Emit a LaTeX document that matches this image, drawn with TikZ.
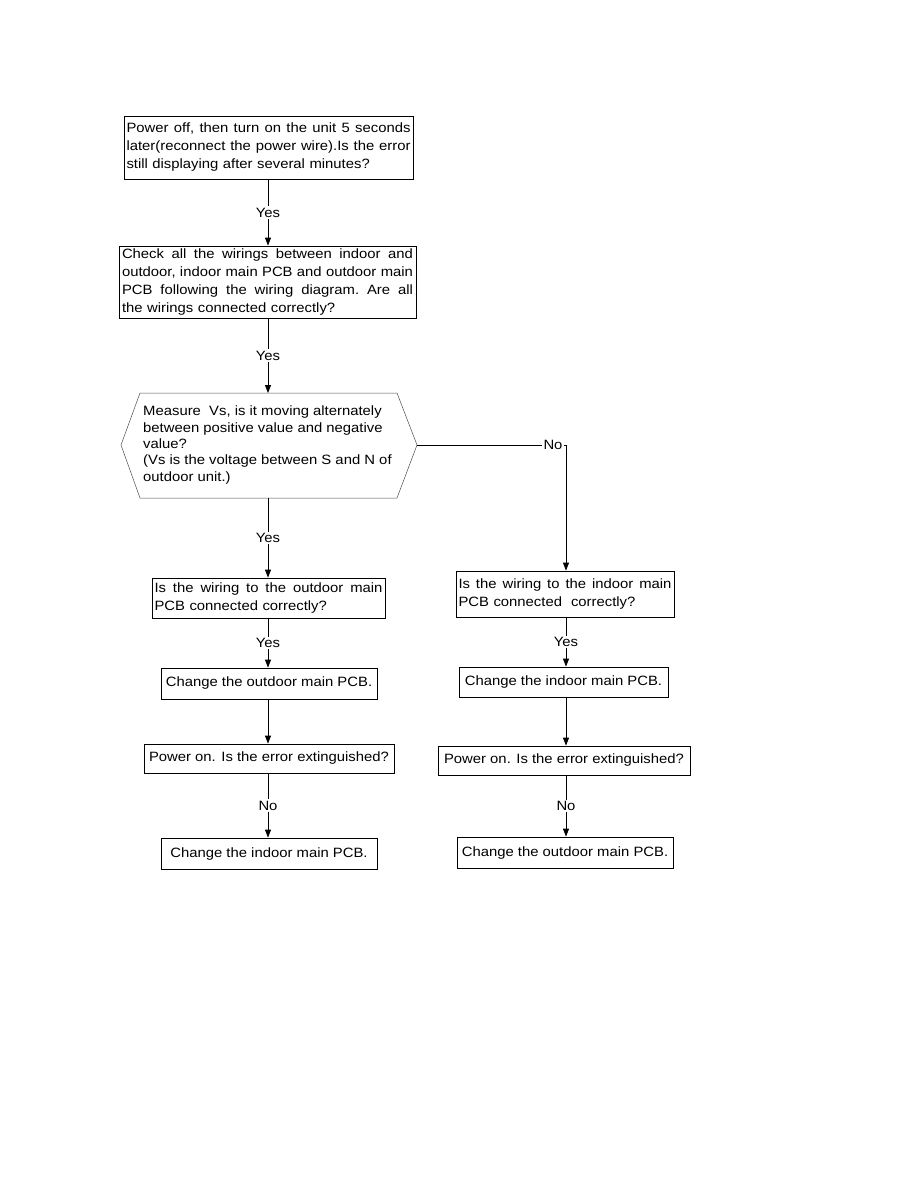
\documentclass[tikz,border=0pt]{standalone}
\usepackage{fontspec}
\setmainfont{Liberation Sans}[FakeStretch=1.1]
\usetikzlibrary{arrows.meta}
\newcommand\jline[1]{\leavevmode\hbox to \hsize{\frenchspacing\spaceskip=0.28em plus 1fil\xspaceskip=0pt #1}\\}
\begin{document}
\begin{tikzpicture}[x=1pt,y=-1pt,
  box/.style={draw,line width=0.8pt,inner sep=2pt,font=\fontsize{13.5}{18}\selectfont},
  lbl/.style={fill=white,inner sep=1.5pt,font=\fontsize{13.5}{16}\selectfont},
  arr/.style={line width=0.8pt,-{Triangle[length=8pt,width=6pt]}},
  ln/.style={line width=0.8pt}]
\useasboundingbox (0,0) rectangle (918,1188);
\node[box,minimum width=289pt,minimum height=63pt,text width=284pt,align=left] (b1) at (268.5,147.5)
 {\jline{Power off, then turn on the unit 5 seconds}\jline{later(reconnect the power wire).Is the error}still displaying after several minutes?};
\node[box,minimum width=297pt,minimum height=72pt,text width=291pt,align=left] (b2) at (267.5,282)
 {\jline{Check all the wirings between indoor and}\jline{outdoor, indoor main PCB and outdoor main}\jline{PCB following the wiring diagram. Are all}the wirings connected correctly?};
% hexagon
\coordinate (hl) at (121,445);
\coordinate (hr) at (417,445);
\coordinate (ht) at (268,393);
\coordinate (hb) at (268,498);
\draw[line width=0.5pt,gray!60!black] (hl) -- (140,393) -- (397,393) -- (hr) -- (397,498) -- (140,498) -- cycle;
\node[anchor=west,inner sep=0pt,align=left,font=\fontsize{13.5}{16.3}\selectfont] (hex) at (143,445)
 {Measure\ \ Vs, is it moving alternately\\between positive value and negative\\value?\\(Vs is the voltage between S and N of\\outdoor unit.)};
\node[box,minimum width=233pt,minimum height=40pt,text width=228pt,align=left] (l1) at (268.5,598)
 {\jline{Is the wiring to the outdoor main}PCB connected correctly?};
\node[box,minimum width=218pt,minimum height=46pt,text width=213pt,align=left] (r1) at (565,594)
 {\jline{Is the wiring to the indoor main}PCB connected\ \ correctly?};
\node[box,minimum width=216pt,minimum height=31pt] (l2) at (269,683.5) {Change the outdoor main PCB.};
\node[box,minimum width=209pt,minimum height=30pt] (r2) at (563.5,682) {Change the indoor main PCB.};
\node[box,minimum width=250pt,minimum height=29pt] (l3) at (269,758.5) {Power on. Is the error extinguished?};
\node[box,minimum width=252pt,minimum height=29pt] (r3) at (564,760.5) {Power on. Is the error extinguished?};
\node[box,minimum width=216pt,minimum height=31pt] (l4) at (269,853.5) {Change the indoor main PCB.};
\node[box,minimum width=216pt,minimum height=31pt] (r4) at (565,852.5) {Change the outdoor main PCB.};
% connectors
\draw[arr] (b1.south -| 268,0) -- node[lbl]{Yes} (b2.north -| 268,0);
\draw[arr] (b2.south -| 268,0) -- node[lbl]{Yes} (ht);
\draw[arr] (hb) -- node[lbl]{Yes} (l1.north -| 268,0);
\draw[arr] (l1.south -| 268,0) -- node[lbl]{Yes} (l2.north -| 268,0);
\draw[arr] (l2.south -| 268,0) -- (l3.north -| 268,0);
\draw[arr] (l3.south -| 268,0) -- node[lbl]{No} (l4.north -| 268,0);
\coordinate (cn) at (566,445);
\draw[arr] (hr) -- (cn) -- (r1.north -| cn);
\node[lbl] (no1) at (553,445) {No};
\draw[arr] (r1.south -| cn) -- node[lbl]{Yes} (r2.north -| cn);
\draw[arr] (r2.south -| cn) -- (r3.north -| cn);
\draw[arr] (r3.south -| cn) -- node[lbl]{No} (r4.north -| cn);
\end{tikzpicture}
\end{document}
